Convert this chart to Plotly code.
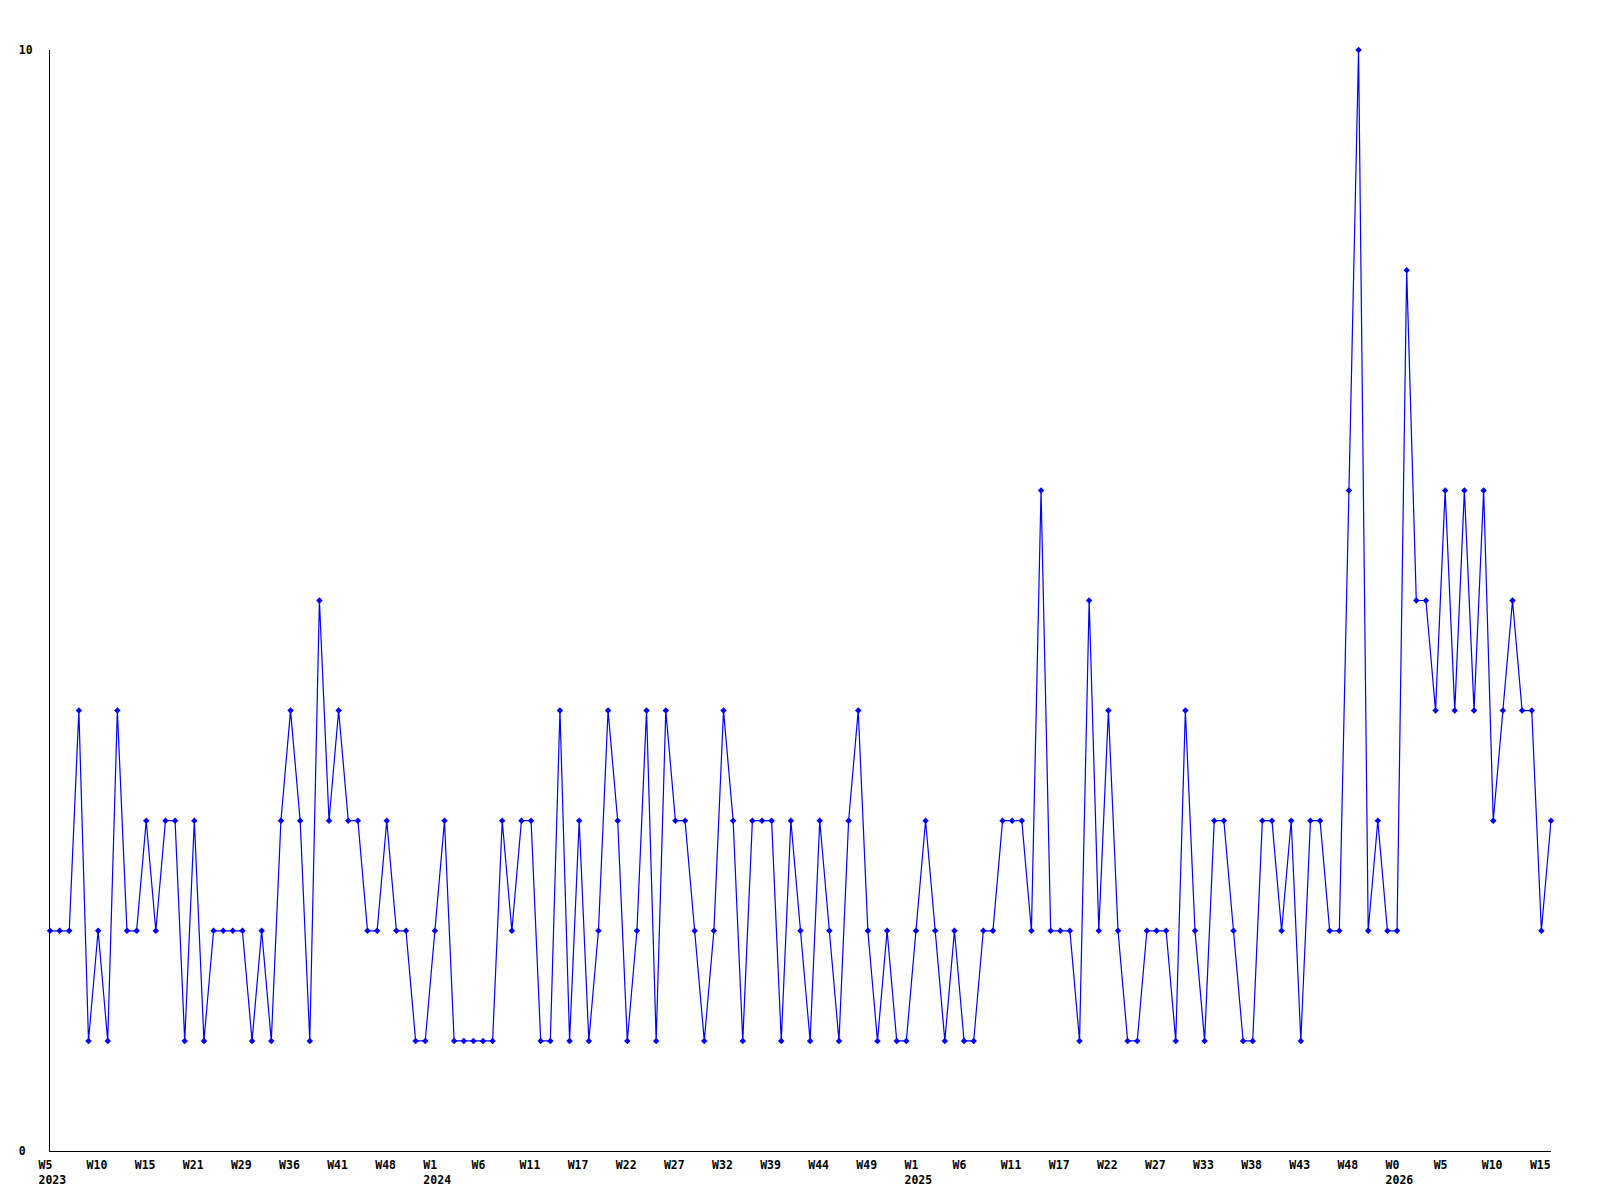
import plotly.graph_objects as go

# weekly counts (one value per plotted week)
values = [
    2, 2, 2, 4, 1, 2, 1, 4, 2, 2,
    3, 2, 3, 3, 1, 3, 1, 2, 2, 2,
    2, 1, 2, 1, 3, 4, 3, 1, 5, 3,
    4, 3, 3, 2, 2, 3, 2, 2, 1, 1,
    2, 3, 1, 1, 1, 1, 1, 3, 2, 3,
    3, 1, 1, 4, 1, 3, 1, 2, 4, 3,
    1, 2, 4, 1, 4, 3, 3, 2, 1, 2,
    4, 3, 1, 3, 3, 3, 1, 3, 2, 1,
    3, 2, 1, 3, 4, 2, 1, 2, 1, 1,
    2, 3, 2, 1, 2, 1, 1, 2, 2, 3,
    3, 3, 2, 6, 2, 2, 2, 1, 5, 2,
    4, 2, 1, 1, 2, 2, 2, 1, 4, 2,
    1, 3, 3, 2, 1, 1, 3, 3, 2, 3,
    1, 3, 3, 2, 2, 6, 10, 2, 3, 2,
    2, 8, 5, 5, 4, 6, 4, 6, 4, 6,
    3, 4, 5, 4, 4, 2, 3,
]

# tick labels shown every 5th point
tick_weeks = [
    "W5", "W10", "W15", "W21", "W29", "W36", "W41", "W48",
    "W1", "W6", "W11", "W17", "W22", "W27", "W32", "W39", "W44", "W49",
    "W1", "W6", "W11", "W17", "W22", "W27", "W33", "W38", "W43", "W48",
    "W0", "W5", "W10", "W15",
]
year_at_tick = {0: "2023", 8: "2024", 18: "2025", 28: "2026"}

y_ticks = [0, 10]
y_tick_text = ["0\u00a0", "10"]

x = list(range(len(values)))
tick_step = 5
tickvals = [i * tick_step for i in range(len(tick_weeks))]
ticktext = []
for k, w in enumerate(tick_weeks):
    if k in year_at_tick:
        ticktext.append(w + "<br>" + year_at_tick[k])
    else:
        ticktext.append(w)

font_family = "DejaVu Sans Mono"
tick_font = dict(family=font_family, size=11.5, color="black", weight="bold")

fig = go.Figure()
fig.add_trace(go.Scatter(
    x=x, y=values, mode="lines+markers",
    line=dict(color="#0000ff", width=1.2),
    marker=dict(symbol="diamond", size=5, color="#0000ff"),
    cliponaxis=False,
    hoverinfo="x+y",
))

# the page body has an 8px margin, so the figure is offset by 8px
fig.update_layout(
    width=1584, height=1184,
    margin=dict(l=42, r=41, t=42, b=41, pad=0),
    paper_bgcolor="white", plot_bgcolor="white",
    showlegend=False,
    font=dict(family=font_family, size=11.5, color="black"),
)
fig.update_xaxes(
    range=[0, len(values) - 1],
    automargin=False,
    tickmode="array", tickvals=tickvals, ticktext=ticktext,
    showgrid=False, zeroline=False,
    showline=True, linecolor="black", linewidth=1,
    ticks="", ticklabelposition="outside right", ticklabelshift=-12,
    ticklabelstandoff=3,
    tickfont=tick_font,
)
fig.update_yaxes(
    range=[0, 10],
    automargin=False,
    tickmode="array", tickvals=y_ticks, ticktext=y_tick_text,
    showgrid=True, gridcolor="black", gridwidth=1,
    zeroline=False,
    showline=True, linecolor="black", linewidth=1,
    ticks="", ticklabelstandoff=14,
    tickfont=tick_font,
)

fig.write_html("out.html")
